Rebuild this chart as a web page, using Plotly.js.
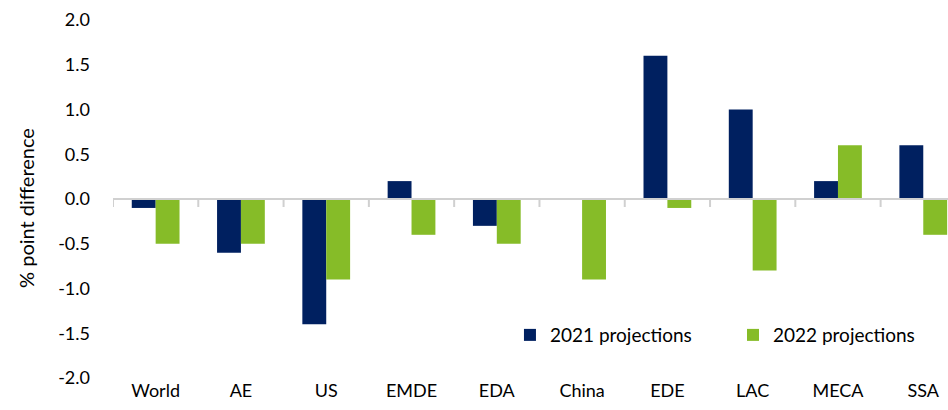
<!DOCTYPE html>
<html>
<head>
<meta charset="utf-8">
<script src="https://cdn.plot.ly/plotly-3.0.1.min.js"></script>
<style>html,body{margin:0;padding:0;background:#fff;}#chart{width:948px;height:410px;}</style>
</head>
<body>
<div id="chart"></div>
<script>
const categories = ["World","AE","US","EMDE","EDA","China","EDE","LAC","MECA","SSA"];
const proj2021 = [-0.1,-0.6,-1.4,0.2,-0.3,0.0,1.6,1.0,0.2,0.6];
const proj2022 = [-0.5,-0.5,-0.9,-0.4,-0.5,-0.9,-0.1,-0.8,0.6,-0.4];
const yTicks = [-2.0,-1.5,-1.0,-0.5,0.0,0.5,1.0,1.5,2.0];
const seriesNames = ["2021 projections","2022 projections"];
const yTitle = "% point difference";

const FONT = "Lato, 'Open Sans', sans-serif";
const navy = "#002060", green = "#86BC28";

const traces = [
  {type:"bar", name:seriesNames[0], x:categories, y:proj2021, marker:{color:navy}, legend:"legend"},
  {type:"bar", name:seriesNames[1], x:categories, y:proj2022, marker:{color:green}, legend:"legend2"}
];

const shapes = [{type:"line", xref:"paper", yref:"y", x0:0, x1:1, y0:0, y1:0, line:{color:"#D0D0D0", width:2}}];
for (let i = 0; i < categories.length; i++) {
  shapes.push({type:"line", xref:"x", yref:"y", ysizemode:"pixel", yanchor:0,
    x0:i-0.5, x1:i-0.5, y0:0, y1:-8, line:{color:"#D0D0D0", width:2}});
}

const legFont = {family:FONT, size:19, color:"#000"};
const layout = {
  width:948, height:410,
  margin:{l:113, r:0, t:20, b:32},
  paper_bgcolor:"#fff", plot_bgcolor:"#fff",
  font:{family:FONT, size:18, color:"#000"},
  barmode:"group", bargap:0.44, bargroupgap:0,
  showlegend:true,
  legend:{orientation:"h", x:0.4754, xanchor:"left", y:0.12, yanchor:"middle",
    font:legFont, itemwidth:30, bgcolor:"rgba(0,0,0,0)"},
  legend2:{orientation:"h", x:0.7425, xanchor:"left", y:0.12, yanchor:"middle",
    font:legFont, itemwidth:30, bgcolor:"rgba(0,0,0,0)"},
  xaxis:{type:"category", range:[-0.5, 9.29], showgrid:false, showline:false, zeroline:false,
    ticks:"", tickfont:{family:FONT, size:18}, fixedrange:true},
  yaxis:{range:[-2,2], tickvals:yTicks, ticktext:yTicks.map(v => v.toFixed(1)),
    showgrid:false, zeroline:false, showline:false, ticks:"", ticklabelstandoff:22,
    tickfont:{family:FONT, size:18}},
  annotations:[{text:yTitle, xref:"paper", yref:"paper", x:-0.1042, y:0.475,
    xanchor:"center", yanchor:"middle", textangle:-90, showarrow:false,
    font:{family:FONT, size:20, color:"#000"}}],
  shapes:shapes
};

Plotly.newPlot("chart", traces, layout, {displayModeBar:false, staticPlot:true});
</script>
</body>
</html>
